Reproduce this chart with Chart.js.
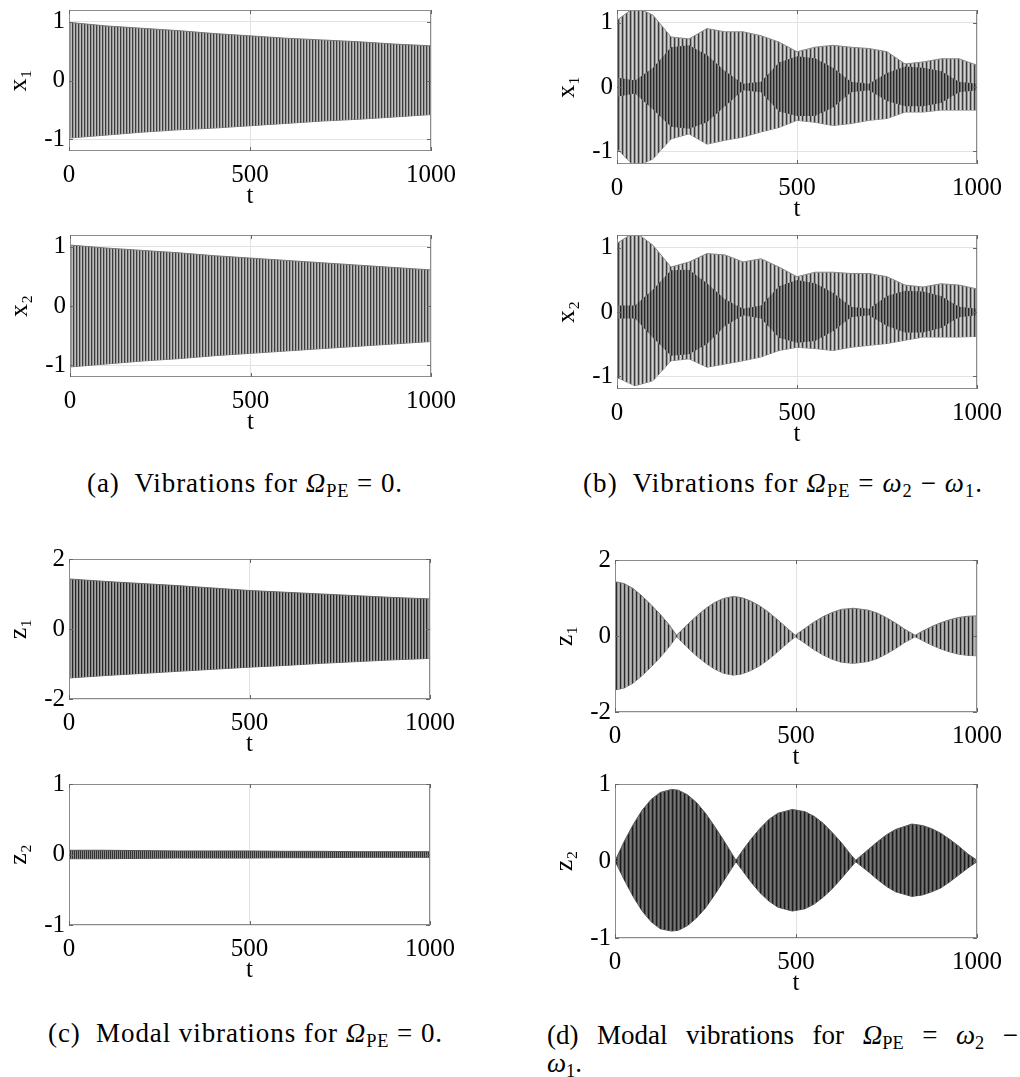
<!DOCTYPE html>
<html>
<head>
<meta charset="utf-8">
<script src="https://cdn.jsdelivr.net/npm/chart.js@4.4.1/dist/chart.umd.min.js"></script>
<style>
  body { margin: 0; background: #fff; width: 1020px; height: 1077px; position: relative; overflow: hidden; font-family: "Liberation Serif", serif; color: #000; }
  .cap { position: absolute; font-size: 27px; line-height: 27px; white-space: nowrap; }
  .cap sub { font-size: 68%; vertical-align: -0.25em; line-height: 0; }
  .just { text-align: justify; text-align-last: justify; white-space: normal; }
</style>
</head>
<body>

<div class="cap" data-w="316" style="left:87px;top:470px">(a)&nbsp; Vibrations for <i>Ω</i><sub>PE</sub> = 0.</div>
<div class="cap" data-w="400" style="left:583px;top:470px">(b)&nbsp; Vibrations for <i>Ω</i><sub>PE</sub> = <i>ω</i><sub>2</sub> − <i>ω</i><sub>1</sub>.</div>
<div class="cap" data-w="395" style="left:48px;top:1020px">(c)&nbsp; Modal vibrations for <i>Ω</i><sub>PE</sub> = 0.</div>
<div class="cap just" style="left:547px;top:1022px;width:471px">(d) Modal vibrations for <i>Ω</i><sub>PE</sub> = <i>ω</i><sub>2</sub> −</div>
<div class="cap" style="left:547px;top:1050px"><i>ω</i><sub>1</sub>.</div>

<script>
// time axis ticks
const xTicks = [0, 500, 1000];
const yTicks1 = [-1, 0, 1];
const yTicks2 = [-2, 0, 2];

// (a) envelopes of x1, x2 for Omega_PE = 0
const tA = [0, 100, 200, 300, 400, 500, 600, 700, 800, 900, 1000];
const x1aUp = [0.99, 0.93, 0.89, 0.85, 0.80, 0.76, 0.72, 0.69, 0.66, 0.62, 0.59];
const x1aLo = [-0.98, -0.93, -0.88, -0.84, -0.81, -0.77, -0.73, -0.69, -0.66, -0.62, -0.58];
const x2aUp = [1.03, 0.98, 0.94, 0.90, 0.85, 0.81, 0.77, 0.73, 0.69, 0.65, 0.61];
const x2aLo = [-1.03, -0.98, -0.93, -0.89, -0.84, -0.80, -0.76, -0.72, -0.68, -0.64, -0.60];

// (b) envelopes (outer spikes and dense core) for Omega_PE = w2 - w1
const tB = [0, 50, 100, 150, 200, 250, 300, 350, 400, 450, 500, 550, 600, 650, 700, 750, 800, 850, 900, 950, 1000];
const x1bUp = [1.04, 1.25, 1.12, 0.78, 0.75, 0.91, 0.86, 0.86, 0.80, 0.70, 0.55, 0.62, 0.65, 0.62, 0.60, 0.55, 0.36, 0.39, 0.44, 0.44, 0.34];
const x1bLo = [-0.96, -1.25, -1.12, -0.81, -0.73, -0.89, -0.83, -0.78, -0.70, -0.63, -0.52, -0.55, -0.60, -0.57, -0.52, -0.49, -0.39, -0.39, -0.36, -0.36, -0.36];
const x1bCoreUp = [0.15, 0.10, 0.30, 0.62, 0.65, 0.50, 0.25, 0.05, 0.08, 0.38, 0.48, 0.45, 0.30, 0.08, 0.05, 0.22, 0.32, 0.30, 0.25, 0.08, 0.05];
const x1bCoreLo = [-0.15, -0.10, -0.35, -0.62, -0.65, -0.55, -0.30, -0.05, -0.08, -0.38, -0.45, -0.45, -0.32, -0.08, -0.05, -0.22, -0.30, -0.30, -0.25, -0.08, -0.05];
const x2bUp = [1.07, 1.25, 1.04, 0.70, 0.78, 0.91, 0.89, 0.78, 0.83, 0.70, 0.55, 0.62, 0.62, 0.60, 0.60, 0.55, 0.42, 0.39, 0.44, 0.42, 0.36];
const x2bLo = [-1.02, -1.15, -1.07, -0.76, -0.73, -0.86, -0.81, -0.76, -0.70, -0.60, -0.55, -0.57, -0.60, -0.55, -0.52, -0.49, -0.44, -0.39, -0.39, -0.39, -0.38];
const x2bCoreUp = [0.10, 0.10, 0.35, 0.65, 0.66, 0.45, 0.20, 0.05, 0.10, 0.40, 0.50, 0.45, 0.30, 0.08, 0.05, 0.25, 0.33, 0.32, 0.25, 0.08, 0.05];
const x2bCoreLo = [-0.10, -0.10, -0.40, -0.68, -0.66, -0.50, -0.22, -0.05, -0.10, -0.40, -0.48, -0.45, -0.30, -0.08, -0.05, -0.22, -0.32, -0.32, -0.25, -0.08, -0.05];

// (c) modal envelopes for Omega_PE = 0
const tC = [0, 100, 200, 300, 400, 500, 600, 700, 800, 900, 1000];
const z1cUp = [1.43, 1.36, 1.30, 1.24, 1.17, 1.10, 1.05, 1.00, 0.95, 0.90, 0.86];
const z1cLo = [-1.40, -1.33, -1.27, -1.21, -1.15, -1.09, -1.04, -0.98, -0.93, -0.88, -0.84];
const z2cUp = [0.06, 0.06, 0.055, 0.05, 0.05, 0.05, 0.045, 0.045, 0.04, 0.04, 0.04];
const z2cLo = [-0.06, -0.06, -0.055, -0.05, -0.05, -0.05, -0.045, -0.045, -0.04, -0.04, -0.04];

// (d) modal envelopes for Omega_PE = w2 - w1
const tD1 = [0, 25, 50, 75, 100, 125, 150, 170, 200, 225, 250, 275, 300, 327, 350, 375, 400, 425, 450, 475, 498, 525, 550, 575, 600, 625, 659, 700, 725, 750, 775, 800, 829, 850, 875, 900, 925, 950, 975, 1000];
const z1dUp = [1.43, 1.38, 1.25, 1.05, 0.82, 0.57, 0.29, 0.02, 0.30, 0.52, 0.72, 0.88, 0.99, 1.04, 1.01, 0.92, 0.79, 0.62, 0.42, 0.21, 0.02, 0.20, 0.37, 0.51, 0.62, 0.70, 0.73, 0.68, 0.60, 0.48, 0.34, 0.18, 0.02, 0.13, 0.25, 0.35, 0.43, 0.49, 0.52, 0.53];
const z1dLo = [-1.42, -1.37, -1.24, -1.04, -0.81, -0.56, -0.28, -0.02, -0.30, -0.52, -0.71, -0.87, -0.98, -1.03, -1.00, -0.91, -0.78, -0.61, -0.41, -0.20, -0.02, -0.19, -0.36, -0.50, -0.61, -0.69, -0.72, -0.67, -0.59, -0.47, -0.33, -0.17, -0.02, -0.12, -0.24, -0.34, -0.42, -0.48, -0.51, -0.52];
const tD2 = [0, 25, 50, 75, 100, 125, 156, 175, 200, 225, 250, 275, 300, 334, 350, 375, 400, 425, 450, 490, 525, 550, 575, 600, 625, 650, 665, 700, 725, 750, 775, 820, 850, 875, 900, 925, 950, 975, 1000];
const z2dUp = [0.00, 0.25, 0.47, 0.66, 0.80, 0.89, 0.93, 0.92, 0.86, 0.76, 0.62, 0.45, 0.27, 0.01, 0.12, 0.28, 0.42, 0.54, 0.62, 0.67, 0.64, 0.58, 0.49, 0.37, 0.24, 0.09, 0.01, 0.15, 0.25, 0.34, 0.41, 0.48, 0.46, 0.42, 0.36, 0.28, 0.19, 0.09, 0.01];
const z2dLo = [0.00, -0.24, -0.46, -0.65, -0.79, -0.88, -0.91, -0.90, -0.84, -0.74, -0.61, -0.44, -0.26, -0.01, -0.11, -0.27, -0.41, -0.52, -0.60, -0.65, -0.62, -0.56, -0.47, -0.36, -0.23, -0.09, -0.01, -0.14, -0.24, -0.33, -0.40, -0.46, -0.44, -0.40, -0.35, -0.27, -0.18, -0.09, -0.01];

const FONT = '"Liberation Serif", serif';
const ML = 75, MT = 14, MR = 36, MB = 60;

// vertical stripe fill that stands in for the dense oscillation
function stripes(cols) {
  const c = document.createElement('canvas');
  c.width = cols.length; c.height = 1;
  const g = c.getContext('2d');
  cols.forEach((col, i) => { g.fillStyle = col; g.fillRect(i, 0, 1, 1); });
  return g.createPattern(c, 'repeat');
}

function band(t, up, lo, fill, edge) {
  const bw = edge ? 1 : 0;
  return [
    { data: t.map((x, i) => ({ x, y: up[i] })), fill: '+1', backgroundColor: fill,
      borderColor: edge || 'transparent', borderWidth: bw, pointRadius: 0, tension: 0 },
    { data: t.map((x, i) => ({ x, y: lo[i] })), fill: false,
      borderColor: edge || 'transparent', borderWidth: bw, pointRadius: 0, tension: 0 }
  ];
}

const frame = {
  id: 'frame',
  afterDatasetsDraw(chart) {
    const { left, top, right, bottom } = chart.chartArea;
    const g = chart.ctx;
    g.save();
    g.strokeStyle = '#8c8c8c';
    g.lineWidth = 1;
    g.strokeRect(Math.round(left) + 0.5, Math.round(top) + 0.5, Math.round(right - left) - 1, Math.round(bottom - top) - 1);
    g.strokeStyle = '#666';
    const ys = chart.scales.y, xs = chart.scales.x;
    ys.ticks.forEach(tk => {
      const p = Math.round(ys.getPixelForValue(tk.value)) + 0.5;
      g.beginPath();
      g.moveTo(left, p); g.lineTo(left + 4, p);
      g.moveTo(right, p); g.lineTo(right - 4, p);
      g.stroke();
    });
    xs.ticks.forEach(tk => {
      const p = Math.round(xs.getPixelForValue(tk.value)) + 0.5;
      g.beginPath();
      g.moveTo(p, bottom); g.lineTo(p, bottom - 4);
      g.moveTo(p, top); g.lineTo(p, top + 4);
      g.stroke();
    });
    g.restore();
  }
};

function plot(box, ymax, yTicks, ylab, datasets) {
  const cv = document.createElement('canvas');
  const W = box[2] - box[0] + ML + MR, H = box[3] - box[1] + MT + MB;
  cv.width = W; cv.height = H;
  cv.style.cssText = `position:absolute;left:${box[0] - ML}px;top:${box[1] - MT}px;width:${W}px;height:${H}px`;
  document.body.appendChild(cv);
  new Chart(cv, {
    type: 'line',
    data: { datasets },
    plugins: [frame],
    options: {
      responsive: false,
      animation: false,
      devicePixelRatio: 1,
      layout: { padding: { left: 0, top: MT, right: MR, bottom: 0 }, autoPadding: false },
      plugins: { legend: { display: false }, tooltip: { enabled: false } },
      scales: {
        x: {
          type: 'linear', min: 0, max: 1000,
          afterBuildTicks: s => { s.ticks = xTicks.map(v => ({ value: v })); },
          afterFit: s => { s.height = MB; s.paddingLeft = 0; s.paddingRight = 0; },
          grid: { color: '#e2e2e2', drawTicks: false },
          border: { display: false },
          ticks: { padding: 9, maxRotation: 0, autoSkip: false, color: '#000', font: { family: FONT, size: 25 }, callback: v => String(v) },
          title: { display: true, text: 't', padding: 0, color: '#000', font: { family: FONT, size: 25 } }
        },
        y: {
          type: 'linear', min: -ymax, max: ymax,
          afterBuildTicks: s => { s.ticks = yTicks.map(v => ({ value: v })); },
          afterFit: s => { s.width = ML; s.paddingTop = 0; s.paddingBottom = 0; },
          grid: { color: '#e2e2e2', drawTicks: false },
          border: { display: false },
          ticks: { padding: 4, autoSkip: false, color: '#000', font: { family: FONT, size: 25 }, callback: v => String(v) },
          title: { display: true, text: ylab, padding: { top: 10, bottom: 0 }, color: '#000', font: { family: FONT, size: 26 } }
        }
      }
    }
  });
}

const midFill = stripes(['#3c3c3c', '#969696', '#bcbcbc']);
const outerFill = stripes(['#3a3a3a', '#999', '#d2d2d2', '#ababab']);
const coreFill = stripes(['#262626', '#6a6a6a', '#8c8c8c']);
const denseFill = stripes(['#262626', '#848484', '#a4a4a4']);
const beatFill = stripes(['#2a2a2a', '#8e8e8e', '#b8b8b8', '#9c9c9c']);
const darkFill = stripes(['#1a1a1a', '#505050', '#767676', '#5c5c5c']);
const thinFill = stripes(['#333', '#888']);

// (a)
plot([69, 10, 431, 151], 1.2, yTicks1, 'x₁', band(tA, x1aUp, x1aLo, midFill, '#777'));
plot([70, 235, 431, 377], 1.2, yTicks1, 'x₂', band(tA, x2aUp, x2aLo, midFill, '#777'));
// (b)
plot([617, 10, 977, 164], 1.2, yTicks1, 'x₁',
  band(tB, x1bCoreUp, x1bCoreLo, coreFill, null).concat(band(tB, x1bUp, x1bLo, outerFill, '#888')));
plot([617, 235, 977, 389], 1.2, yTicks1, 'x₂',
  band(tB, x2bCoreUp, x2bCoreLo, coreFill, null).concat(band(tB, x2bUp, x2bLo, outerFill, '#888')));
// (c)
plot([69, 559, 430, 699], 2, yTicks2, 'z₁', band(tC, z1cUp, z1cLo, denseFill, '#666'));
plot([69, 784, 430, 925], 1, yTicks1, 'z₂', band(tC, z2cUp, z2cLo, thinFill, '#555'));
// (d)
plot([615, 560, 977, 712], 2, yTicks2, 'z₁', band(tD1, z1dUp, z1dLo, beatFill, '#777'));
plot([615, 784, 977, 938], 1, yTicks1, 'z₂', band(tD2, z2dUp, z2dLo, darkFill, '#555'));

// stretch the captions to the measured widths
document.querySelectorAll('.cap[data-w]').forEach(el => {
  const w = el.getBoundingClientRect().width;
  const n = el.textContent.length;
  el.style.letterSpacing = ((+el.dataset.w - w) / n) + 'px';
});
</script>
</body>
</html>
